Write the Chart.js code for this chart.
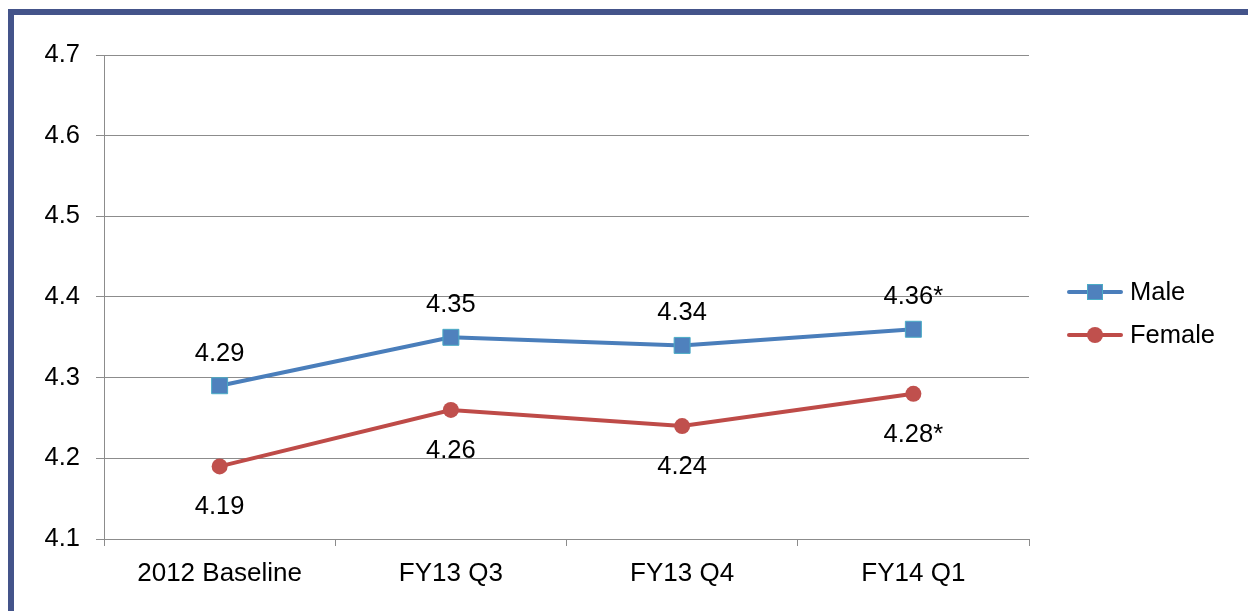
<!DOCTYPE html>
<html>
<head>
<meta charset="utf-8">
<script src="https://cdn.jsdelivr.net/npm/chart.js@4/dist/chart.umd.min.js"></script>
<style>
  html, body { margin: 0; padding: 0; background: #ffffff; overflow: hidden; }
  #frame { position: absolute; left: 8px; top: 9px; width: 1400px; height: 800px;
           border-left: 6px solid #44548a; border-top: 6px solid #44548a; }
  #wrap { position: absolute; left: 0; top: 0; width: 1248px; height: 611px; }
</style>
</head>
<body>
<div id="frame"></div>
<div id="wrap"><canvas id="c" width="1248" height="611"></canvas></div>
<script>
const categories = ['2012 Baseline', 'FY13 Q3', 'FY13 Q4', 'FY14 Q1'];
const maleValues = [4.29, 4.35, 4.34, 4.36];
const femaleValues = [4.19, 4.26, 4.24, 4.28];
const maleLabels = ['4.29', '4.35', '4.34', '4.36*'];
const femaleLabels = ['4.19', '4.26', '4.24', '4.28*'];
const yTicks = [4.1, 4.2, 4.3, 4.4, 4.5, 4.6, 4.7];

const FONT = '"Liberation Sans", Arial, sans-serif';
const FS = 25.5;

const valueLabelPlugin = {
  id: 'valueLabels',
  afterDatasetsDraw(chart) {
    const ctx = chart.ctx;
    ctx.save();
    ctx.font = FS + 'px ' + FONT;
    ctx.fillStyle = '#000';
    ctx.textAlign = 'center';
    ctx.textBaseline = 'middle';
    const specs = [
      { ds: 0, labels: maleLabels, dy: -32 },
      { ds: 1, labels: femaleLabels, dy: 41 }
    ];
    specs.forEach(s => {
      const meta = chart.getDatasetMeta(s.ds);
      meta.data.forEach((pt, i) => {
        ctx.fillText(s.labels[i], pt.x, pt.y + s.dy);
      });
    });
    ctx.restore();
  }
};

const legendPlugin = {
  id: 'customLegend',
  afterDraw(chart) {
    const ctx = chart.ctx;
    ctx.save();
    const items = [
      { ds: 0, y: 292 },
      { ds: 1, y: 335 }
    ];
    items.forEach(it => {
      const d = chart.data.datasets[it.ds];
      ctx.strokeStyle = d.borderColor;
      ctx.lineWidth = 4;
      ctx.lineCap = 'round';
      ctx.beginPath();
      ctx.moveTo(1069, it.y);
      ctx.lineTo(1121, it.y);
      ctx.stroke();
      ctx.fillStyle = d.pointBackgroundColor;
      ctx.strokeStyle = d.pointBorderColor;
      ctx.lineWidth = 1;
      if (d.pointStyle === 'rect') {
        ctx.fillRect(1087, it.y - 8, 16, 16);
        ctx.strokeRect(1087.5, it.y - 7.5, 15, 15);
      } else {
        ctx.beginPath();
        ctx.arc(1095, it.y, 8, 0, Math.PI * 2);
        ctx.fill();
      }
      ctx.fillStyle = '#000';
      ctx.font = FS + 'px ' + FONT;
      ctx.textAlign = 'left';
      ctx.textBaseline = 'middle';
      ctx.fillText(d.label, 1130, it.y + 1);
    });
    ctx.restore();
  }
};

new Chart(document.getElementById('c'), {
  type: 'line',
  data: {
    labels: categories,
    datasets: [
      {
        label: 'Male',
        data: maleValues,
        borderColor: '#4a7ebb',
        backgroundColor: '#4f81bd',
        borderWidth: 4,
        pointStyle: 'rect',
        pointRadius: 11.3,
        pointHoverRadius: 11.3,
        pointBackgroundColor: '#4f81bd',
        pointBorderColor: '#4bacc6',
        pointBorderWidth: 1,
        tension: 0
      },
      {
        label: 'Female',
        data: femaleValues,
        borderColor: '#be4b48',
        backgroundColor: '#c0504d',
        borderWidth: 4,
        pointStyle: 'circle',
        pointRadius: 8,
        pointHoverRadius: 8,
        pointBackgroundColor: '#c0504d',
        pointBorderColor: '#c0504d',
        pointBorderWidth: 0,
        tension: 0
      }
    ]
  },
  options: {
    responsive: false,
    animation: false,
    events: [],
    layout: { padding: { left: 0, top: 55, right: 219, bottom: 0 } },
    plugins: {
      legend: { display: false },
      tooltip: { enabled: false }
    },
    scales: {
      x: {
        type: 'category',
        offset: true,
        grid: {
          offset: true,
          drawOnChartArea: false,
          drawTicks: true,
          tickLength: 7,
          color: '#8c8c8c',
          lineWidth: 1
        },
        border: { display: true, color: '#8c8c8c', width: 1 },
        ticks: {
          color: '#000',
          font: { family: FONT, size: 26 },
          padding: 12,
          maxRotation: 0
        },
        afterFit(s) { s.height = 72; }
      },
      y: {
        min: 4.1,
        max: 4.7,
        afterBuildTicks(s) { s.ticks = yTicks.map(v => ({ value: v })); },
        grid: {
          color: '#8c8c8c',
          lineWidth: 1,
          tickLength: 8,
          drawTicks: true
        },
        border: { display: true, color: '#8c8c8c', width: 1 },
        ticks: {
          color: '#000',
          font: { family: FONT, size: FS },
          padding: 16,
          callback: v => Number(v).toFixed(1)
        },
        afterFit(s) { s.width = 104; }
      }
    }
  },
  plugins: [valueLabelPlugin, legendPlugin]
});
</script>
</body>
</html>
